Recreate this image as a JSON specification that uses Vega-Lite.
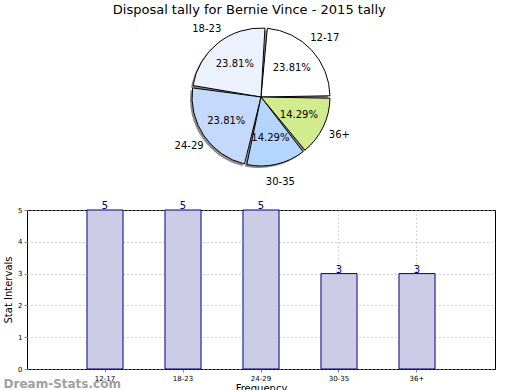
{
  "$schema": "https://vega.github.io/schema/vega-lite/v6.json",
  "padding": {"left": 3, "top": 4, "right": 0, "bottom": 0},
  "background": "white",
  "config": {
    "font": "DejaVu Sans",
    "view": {"stroke": null},
    "title": {"font": "DejaVu Sans", "fontWeight": "normal", "fontSize": 13, "color": "black"}
  },
  "title": {"text": "Disposal tally for Bernie Vince - 2015 tally", "anchor": "middle", "offset": 6},
  "data": {"values": [
    {"cat": "12-17", "count": 5, "pct": "23.81%"},
    {"cat": "18-23", "count": 5, "pct": "23.81%"},
    {"cat": "24-29", "count": 5, "pct": "23.81%"},
    {"cat": "30-35", "count": 3, "pct": "14.29%"},
    {"cat": "36+", "count": 3, "pct": "14.29%"}
  ]},
  "vconcat": [
    {
      "width": 468,
      "height": 148,
      "encoding": {
        "theta": {"field": "count", "type": "quantitative", "stack": true, "scale": {"range": [1.5708, -4.7124]}},
        "order": {"field": "cat", "sort": "ascending"},
        "color": {
          "field": "cat", "type": "nominal",
          "scale": {"domain": ["12-17", "18-23", "24-29", "30-35", "36+"], "range": ["#ffffff", "#ebf2fe", "#c5d9fd", "#b3d5ff", "#d1ec8c"]},
          "legend": null
        }
      },
      "layer": [
        {"mark": {"type": "arc", "outerRadius": 69, "padAngle": 0.035, "xOffset": -2, "yOffset": 2, "fill": "#8c8c8c", "stroke": null}, "encoding": {"fill": {"value": "#8c8c8c"}}},
        {"mark": {"type": "arc", "outerRadius": 69, "padAngle": 0.035, "stroke": "black", "strokeWidth": 1}},
        {"mark": {"type": "text", "radius": 42, "fontSize": 10}, "encoding": {"text": {"field": "pct"}, "fill": {"value": "black"}}},
        {"mark": {"type": "text", "radius": 87, "fontSize": 10}, "encoding": {"text": {"field": "cat"}, "fill": {"value": "black"}}}
      ]
    },
    {
      "width": 468,
      "height": 159,
      "title": {"text": "Dream-Stats.com", "orient": "bottom", "anchor": "start", "offset": -14, "fontSize": 12, "fontWeight": "bold", "color": "#a0a0a0", "frame": "bounds"},
      "view": {"stroke": "black", "strokeWidth": 1},
      "encoding": {
        "x": {
          "field": "cat", "type": "nominal", "sort": ["12-17", "18-23", "24-29", "30-35", "36+"],
          "scale": {"paddingInner": 0.538, "paddingOuter": 0.769},
          "axis": {"title": "Frequency", "titleFontSize": 10, "titleFontWeight": "normal", "titlePadding": 2, "labelAngle": 0, "labelFontSize": 7, "labelPadding": 2, "tickSize": 3, "tickColor": "#888", "domain": false, "bandPosition": 0.5, "grid": true, "gridDash": [1, 3], "gridColor": "#aaa", "labelColor": "black"}
        },
        "y": {
          "field": "count", "type": "quantitative",
          "scale": {"domain": [0, 5], "nice": false},
          "axis": {"title": "Stat Intervals", "titleFontSize": 10, "titleFontWeight": "normal", "titlePadding": 4, "values": [0, 1, 2, 3, 4, 5], "labelFontSize": 7, "labelPadding": 2, "tickSize": 3, "tickColor": "#888", "domain": false, "grid": true, "gridDash": [1, 3], "gridColor": "#aaa", "labelColor": "black"}
        }
      },
      "layer": [
        {"mark": {"type": "bar", "fill": "#ccccE6", "stroke": "#000080", "strokeWidth": 1}},
        {"mark": {"type": "text", "baseline": "bottom", "dy": 1, "fontSize": 10, "color": "#000080"}, "encoding": {"text": {"field": "count", "type": "quantitative"}}}
      ]
    }
  ],
  "spacing": 13
}
